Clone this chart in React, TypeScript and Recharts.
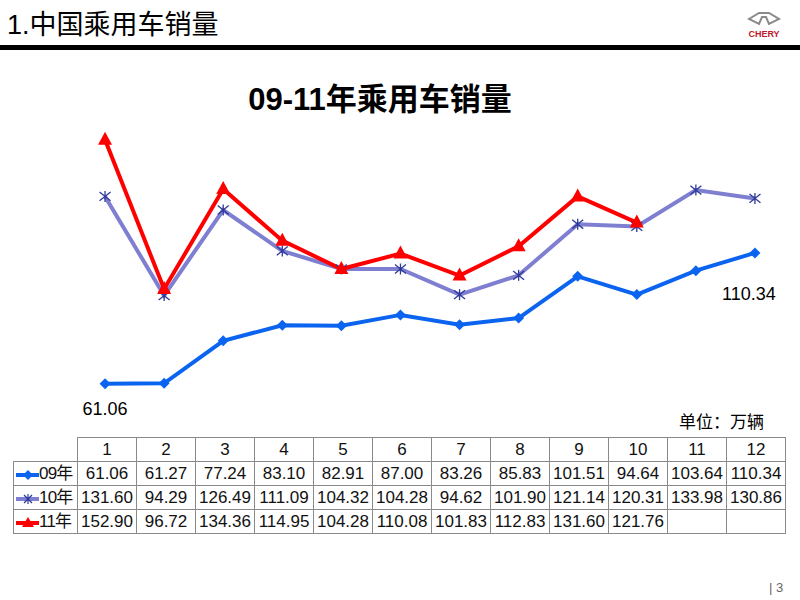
import React from "react";
import { LineChart, Line, XAxis, YAxis, LabelList } from "recharts";

const months = [1, 2, 3, 4, 5, 6, 7, 8, 9, 10, 11, 12];
const sales09 = [61.06, 61.27, 77.24, 83.1, 82.91, 87.0, 83.26, 85.83, 101.51, 94.64, 103.64, 110.34];
const sales10 = [131.6, 94.29, 126.49, 111.09, 104.32, 104.28, 94.62, 101.9, 121.14, 120.31, 133.98, 130.86];
const sales11: (number | null)[] = [152.9, 96.72, 134.36, 114.95, 104.28, 110.08, 101.83, 112.83, 131.6, 121.76, null, null];
const seriesNames = ["09年", "10年", "11年"];

const BLUE = "#0A64F0";
const PURPLE = "#7F7FD2";
const PURPLE_MARK = "#2E3A9A";
const RED = "#FF0000";

const data = months.map((m, i) => ({ m, s09: sales09[i], s10: sales10[i], s11: sales11[i] }));

const FONT = "'Liberation Sans', Arial, 'Noto Sans CJK SC', sans-serif";

const Diamond = (props: any) => {
  const { cx, cy, index } = props;
  if (cx == null || cy == null) return <g key={"d" + index} />;
  const r = 5.5;
  return <polygon key={"d" + index} points={`${cx},${cy - r} ${cx + r},${cy} ${cx},${cy + r} ${cx - r},${cy}`} fill={BLUE} />;
};

const Star = (props: any) => {
  const { cx, cy, index } = props;
  if (cx == null || cy == null) return <g key={"s" + index} />;
  const r = 5.5;
  return (
    <g key={"s" + index} stroke={PURPLE_MARK} strokeWidth={1.3}>
      <line x1={cx} y1={cy - r} x2={cx} y2={cy + r} />
      <line x1={cx - r} y1={cy - r * 0.8} x2={cx + r} y2={cy + r * 0.8} />
      <line x1={cx - r} y1={cy + r * 0.8} x2={cx + r} y2={cy - r * 0.8} />
    </g>
  );
};

const Triangle = (props: any) => {
  const { cx, cy, index } = props;
  if (cx == null || cy == null) return <g key={"t" + index} />;
  return <polygon key={"t" + index} points={`${cx},${cy - 8} ${cx + 7},${cy + 5} ${cx - 7},${cy + 5}`} fill={RED} />;
};

const EndLabel = (props: any) => {
  const { x, y, value, index } = props;
  if (index === 0) {
    return (
      <text x={x} y={y + 31} textAnchor="middle" fontSize={18} fontFamily={FONT} fill="#000">
        {Number(value).toFixed(2)}
      </text>
    );
  }
  if (index === months.length - 1) {
    return (
      <text x={x - 6} y={y + 47} textAnchor="middle" fontSize={18} fontFamily={FONT} fill="#000">
        {Number(value).toFixed(2)}
      </text>
    );
  }
  return null;
};

const LegendIcon = ({ idx }: { idx: number }) => {
  const color = idx === 0 ? BLUE : idx === 1 ? PURPLE : RED;
  return (
    <svg width={24} height={12} style={{ verticalAlign: "middle", marginRight: 0 }}>
      <line x1={1} y1={6} x2={24} y2={6} stroke={color} strokeWidth={4} />
      {idx === 0 && <polygon points="13,1 18,6 13,11 8,6" fill={BLUE} />}
      {idx === 1 && (
        <g stroke={PURPLE_MARK} strokeWidth={1.2}>
          <line x1={13} y1={1} x2={13} y2={11} />
          <line x1={9} y1={2} x2={17} y2={10} />
          <line x1={9} y1={10} x2={17} y2={2} />
        </g>
      )}
      {idx === 2 && <polygon points="13,0 19,10 7,10" fill={RED} />}
    </svg>
  );
};

const cellStyle: React.CSSProperties = {
  border: "1px solid #8a8a8a",
  textAlign: "center",
  padding: 0,
  height: 23,
  lineHeight: "23px",
  fontSize: 17,
  fontFamily: FONT,
  color: "#111",
};

export default function App() {
  const rows = [sales09, sales10, sales11];
  return (
    <div style={{ position: "absolute", left: 0, top: 0, width: 800, height: 600, background: "#fff", overflow: "hidden" }}>
      {/* header */}
      <div style={{ position: "absolute", left: 7, top: 3, fontSize: 27, fontFamily: "'Liberation Sans Narrow', 'Liberation Sans', 'Noto Sans CJK SC', sans-serif", color: "#000", whiteSpace: "nowrap" }}>
        1.中国乘用车销量
      </div>
      <div style={{ position: "absolute", left: 0, top: 45, width: 800, height: 5, background: "#000" }} />
      {/* logo */}
      <svg style={{ position: "absolute", left: 735, top: 10 }} width={58} height={30}>
        <path d="M14,9 L24,3 L34,3 L44,9 L34,14 L31,7 L27,7 L24,14 Z" fill="none" stroke="#8a8a8a" strokeWidth={2} />
        <text x={29} y={27} textAnchor="middle" fontSize={9} fontWeight="bold" fontFamily={FONT} fill="#c0182a">CHERY</text>
      </svg>
      {/* title */}
      <div style={{ position: "absolute", left: 230, width: 300, top: 74, textAlign: "center", fontSize: 31, fontWeight: "bold", fontFamily: "'Liberation Sans', Arial, 'Noto Sans CJK SC', sans-serif", color: "#000", whiteSpace: "nowrap" }}>
        09-11年乘用车销量
      </div>
      <div style={{ position: "absolute", left: 0, top: 0 }}>
        <LineChart width={800} height={600} data={data} margin={{ top: 121, right: 15.5, bottom: 54, left: 75.5 }}>
          <XAxis dataKey="m" type="number" domain={[0.5, 12.5]} hide />
          <YAxis domain={[0, 160]} hide />
          <Line dataKey="s09" name={seriesNames[0]} stroke={BLUE} strokeWidth={4} dot={Diamond} activeDot={false} isAnimationActive={false}>
            <LabelList dataKey="s09" content={EndLabel} />
          </Line>
          <Line dataKey="s10" name={seriesNames[1]} stroke={PURPLE} strokeWidth={4} dot={Star} activeDot={false} isAnimationActive={false} />
          <Line dataKey="s11" name={seriesNames[2]} stroke={RED} strokeWidth={4} dot={Triangle} activeDot={false} isAnimationActive={false} />
        </LineChart>
      </div>
      {/* unit */}
      <div style={{ position: "absolute", left: 679, top: 408, fontSize: 17, fontFamily: "'Noto Sans CJK SC', sans-serif", color: "#000", whiteSpace: "nowrap" }}>
        单位：万辆
      </div>
      {/* table */}
      <table style={{ position: "absolute", left: 13, top: 437, borderCollapse: "collapse", tableLayout: "fixed", width: 772 }}>
        <colgroup>
          <col style={{ width: 64 }} />
          {months.map((m) => (
            <col key={m} style={{ width: 59 }} />
          ))}
        </colgroup>
        <tbody>
          <tr>
            <td style={{ ...cellStyle, borderTop: "none", borderLeft: "none" }} />
            {months.map((m) => (
              <td key={m} style={cellStyle}>{m}</td>
            ))}
          </tr>
          {rows.map((r, ri) => (
            <tr key={ri}>
              <td style={{ ...cellStyle, textAlign: "left", whiteSpace: "nowrap", paddingLeft: 1, overflow: "hidden" }}>
                <LegendIcon idx={ri} />
                <span style={{ fontFamily: "'Liberation Sans', 'Noto Sans CJK SC', sans-serif", letterSpacing: -0.8, fontSize: 17 }}>{seriesNames[ri]}</span>
              </td>
              {r.map((v, i) => (
                <td key={i} style={cellStyle}>{v == null ? "" : v.toFixed(2)}</td>
              ))}
            </tr>
          ))}
        </tbody>
      </table>
      {/* page number */}
      <div style={{ position: "absolute", left: 769, top: 580, fontSize: 13, fontFamily: FONT, color: "#666", whiteSpace: "nowrap" }}>
        | 3
      </div>
    </div>
  );
}
